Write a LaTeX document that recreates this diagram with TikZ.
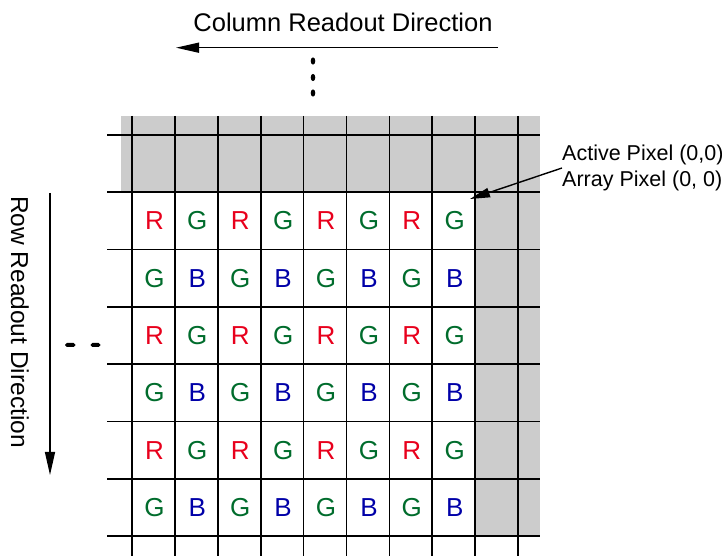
\documentclass[tikz,border=0pt]{standalone}
\usepackage{fontspec}
\setmainfont{Liberation Sans}
\usetikzlibrary{arrows.meta}
\definecolor{pxred}{RGB}{232,0,28}
\definecolor{pxgreen}{RGB}{0,108,44}
\definecolor{pxblue}{RGB}{0,0,168}
\definecolor{pxgray}{RGB}{204,204,204}
\tikzset{
  gridline/.style={line width=1.7pt,black},
  dirarrow/.style={line width=1.4pt,-{Triangle[length=23pt,width=10pt]}},
  labarrow/.style={line width=1.4pt,-{Triangle[length=20pt,width=9.5pt]}},
  pixtext/.style={font=\fontsize{26}{30}\selectfont,inner sep=0pt},
  dirtext/.style={font=\fontsize{25.5}{30}\selectfont,inner sep=0pt},
  labtext/.style={font=\fontsize{21.5}{26}\selectfont,inner sep=0pt,align=left},
  dotmark/.style={fill=black,draw=none}
}
\begin{document}
\begin{tikzpicture}[x=1pt,y=1pt]
\useasboundingbox (0,0) rectangle (722,556);
% gray border regions (px y -> tikz y = 556 - y)
\fill[pxgray] (121,{556-116}) rectangle (540,{556-192.3});
\fill[pxgray] (475.2,{556-116}) rectangle (540,{556-536.1});
% vertical grid lines
\foreach \i in {0,...,9} {
  \draw[gridline] ({132+42.9*\i},{556-116}) -- ({132+42.9*\i},0);
}
% horizontal grid lines
\foreach \j in {0,...,7} {
  \draw[gridline] (107,{556-135-57.3*\j}) -- (540,{556-135-57.3*\j});
}
% pixel letters
\foreach \r in {0,...,5} {
  \foreach \c in {0,...,7} {
    \pgfmathtruncatemacro{\rp}{mod(\r,2)}
    \pgfmathtruncatemacro{\cp}{mod(\c,2)}
    \ifnum\rp=0
      \ifnum\cp=0 \def\lt{R}\def\lc{pxred}\else \def\lt{G}\def\lc{pxgreen}\fi
    \else
      \ifnum\cp=0 \def\lt{G}\def\lc{pxgreen}\else \def\lt{B}\def\lc{pxblue}\fi
    \fi
    \node[pixtext,text=\lc] (p\r\c) at ({132+42.9*(\c+0.5)+1},{556-192.3-57.3*(\r+0.5)}) {\lt};
  }
}
% column readout direction
\node[dirtext,anchor=base] (coltext) at (343,{556-32}) {Column Readout Direction};
\coordinate (colstart) at (498,{556-47.7});
\coordinate (colend) at (176,{556-47.7});
\draw[dirarrow] (colstart) -- (colend);
\fill[dotmark] (313,{556-61}) ellipse (2.3 and 3.6);
\fill[dotmark] (313,{556-77.5}) ellipse (2.3 and 3.6);
\fill[dotmark] (313,{556-93}) ellipse (2.3 and 3.6);
% row readout direction
\node[dirtext,rotate=-90,font=\fontsize{24.5}{30}\selectfont] (rowtext) at (20,{556-322}) {Row Readout Direction};
\coordinate (rowstart) at (50,{556-193});
\coordinate (rowend) at (50,{556-475});
\draw[dirarrow] (rowstart) -- (rowend);
\fill[dotmark,rounded corners=1.8pt] (65,{556-347}) rectangle (75.5,{556-343});
\fill[dotmark,rounded corners=1.8pt] (90.5,{556-347}) rectangle (100.5,{556-343});
% label
\node[labtext,anchor=west] (lab) at (562,{556-168}) {Active Pixel (0,0)\\Array Pixel (0, 0)};
\coordinate (labtip) at (470,{556-199});
\draw[labarrow] (lab.west) -- (labtip);
\end{tikzpicture}
\end{document}
